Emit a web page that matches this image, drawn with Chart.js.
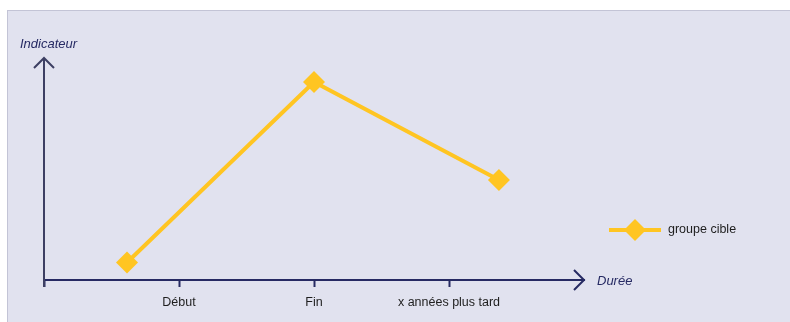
<!DOCTYPE html>
<html lang="fr">
<head>
<meta charset="utf-8">
<title>Indicateur – groupe cible</title>
<script src="https://cdn.jsdelivr.net/npm/chart.js@4/dist/chart.umd.min.js"></script>
<style>
  html, body { margin: 0; padding: 0; background: #ffffff; }
  #wrap { position: relative; width: 790px; height: 322px; overflow: hidden; }
  #panel {
    position: absolute; left: 7px; top: 10px; width: 783px; height: 312px;
    background: #e1e2ef; border-left: 1px solid #c3c4d6; border-top: 1px solid #c3c4d6;
    box-sizing: border-box;
  }
  #chart { position: absolute; left: 0; top: 0; }
</style>
</head>
<body>
<div id="wrap">
  <div id="panel"></div>
  <canvas id="chart" width="790" height="322"></canvas>
</div>
<script>
// Time axis: stages and where each stage sits on the axis
const stageLabels = ['Début', 'Fin', 'x années plus tard'];
const stageTicks = [1, 2, 3];

// Target group: position in time and indicator level
const seriesName = 'groupe cible';
const groupTime = [0.615, 2, 3.37];
const groupLevel = [0.79, 8.92, 4.5];

const axisTitleY = 'Indicateur';
const axisTitleX = 'Durée';

const NAVY = '#262a63';
const NAVY_SOFT = '#3d3f63';
const YELLOW = '#ffc522';
const TEXT = '#1e1e1e';
const FONT = '"Liberation Sans", Arial, sans-serif';

// Axis lines with arrow heads, axis titles and a small legend
const decorations = {
  id: 'decorations',
  afterDraw(chart) {
    const { ctx, chartArea: a } = chart;
    ctx.save();

    // vertical axis with arrow
    ctx.strokeStyle = NAVY_SOFT;
    ctx.lineWidth = 2;
    ctx.beginPath();
    ctx.moveTo(a.left, a.bottom + 7);
    ctx.lineTo(a.left, a.top + 1);
    ctx.stroke();
    ctx.beginPath();
    ctx.moveTo(a.left - 10, a.top + 10);
    ctx.lineTo(a.left, a.top);
    ctx.lineTo(a.left + 10, a.top + 10);
    ctx.stroke();

    // horizontal axis arrow head
    ctx.strokeStyle = NAVY;
    ctx.beginPath();
    ctx.moveTo(a.right - 10, a.bottom - 10);
    ctx.lineTo(a.right, a.bottom);
    ctx.lineTo(a.right - 10, a.bottom + 10);
    ctx.stroke();

    // axis titles
    ctx.fillStyle = NAVY;
    ctx.font = 'italic 13px ' + FONT;
    ctx.textBaseline = 'middle';
    ctx.textAlign = 'left';
    ctx.fillText(axisTitleY, 20, 44);
    ctx.fillText(axisTitleX, a.right + 13, a.bottom + 1);

    // legend
    chart.data.datasets.forEach((ds, i) => {
      const y = 230 + i * 22;
      ctx.strokeStyle = ds.borderColor;
      ctx.lineWidth = ds.borderWidth;
      ctx.beginPath();
      ctx.moveTo(609, y);
      ctx.lineTo(661, y);
      ctx.stroke();
      ctx.fillStyle = ds.pointBackgroundColor;
      ctx.beginPath();
      ctx.moveTo(635, y - 11);
      ctx.lineTo(646, y);
      ctx.lineTo(635, y + 11);
      ctx.lineTo(624, y);
      ctx.closePath();
      ctx.fill();
      ctx.fillStyle = TEXT;
      ctx.font = '12.5px ' + FONT;
      ctx.textAlign = 'left';
      ctx.fillText(ds.label, 668, y);
    });

    ctx.restore();
  }
};

new Chart(document.getElementById('chart'), {
  type: 'line',
  data: {
    datasets: [{
      label: seriesName,
      data: groupTime.map((t, i) => ({ x: t, y: groupLevel[i] })),
      borderColor: YELLOW,
      borderWidth: 4,
      pointStyle: 'rectRot',
      pointRadius: 11,
      pointHoverRadius: 11,
      pointBackgroundColor: YELLOW,
      pointBorderColor: YELLOW,
      pointBorderWidth: 0,
      tension: 0,
      clip: false
    }]
  },
  options: {
    responsive: false,
    animation: false,
    events: [],
    layout: { padding: { left: 44, top: 58, right: 206, bottom: 0 } },
    plugins: {
      legend: { display: false },
      tooltip: { enabled: false }
    },
    scales: {
      x: {
        type: 'linear',
        min: 0,
        max: 4,
        afterBuildTicks(scale) {
          scale.ticks = [0, ...stageTicks].map(v => ({ value: v }));
        },
        afterFit(scale) { scale.height = 42; },
        border: { display: true, color: NAVY, width: 2 },
        grid: {
          display: true,
          drawOnChartArea: false,
          drawTicks: true,
          tickLength: 7,
          tickWidth: 2,
          tickColor: NAVY
        },
        ticks: {
          autoSkip: false,
          maxRotation: 0,
          padding: 8,
          color: TEXT,
          font: { family: FONT, size: 12.5 },
          callback(value) {
            const i = stageTicks.indexOf(value);
            return i >= 0 ? stageLabels[i] : '';
          }
        }
      },
      y: {
        display: false,
        min: 0,
        max: 10
      }
    }
  },
  plugins: [decorations]
});
</script>
</body>
</html>
